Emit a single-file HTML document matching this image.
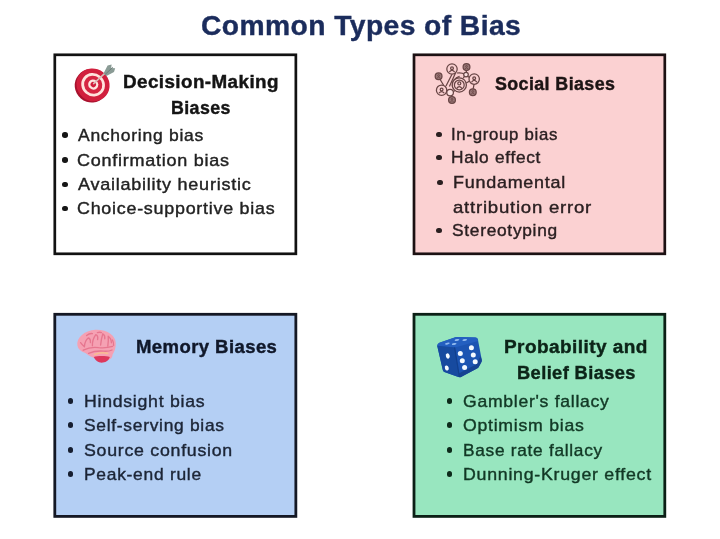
<!DOCTYPE html>
<html><head><meta charset="utf-8"><title>Common Types of Bias</title>
<style>
html,body{margin:0;padding:0;background:#fff;}
body{width:720px;height:539px;position:relative;overflow:hidden;font-family:"Liberation Sans",sans-serif;}
#page{position:absolute;left:0;top:0;width:720px;height:539px;filter:blur(0.45px);}
.t{position:absolute;white-space:nowrap;transform-origin:0 50%;line-height:1;-webkit-text-stroke-color:currentColor;}
.title{font-weight:bold;font-size:27px;letter-spacing:0.4px;color:#1b2c5c;-webkit-text-stroke-width:0.4px;}
.h{font-weight:bold;font-size:18px;letter-spacing:0.4px;-webkit-text-stroke-width:0.4px;}
.li{font-size:17px;letter-spacing:0.7px;-webkit-text-stroke-width:0.4px;}
.d{position:absolute;width:5.6px;height:5.6px;border-radius:50%;}
svg{position:absolute;overflow:visible;}
</style></head><body><div id="page">
<svg width="720" height="539" viewBox="0 0 720 539" style="left:0;top:0;">
<rect x="54.8" y="54.8" width="241.05" height="199" fill="#ffffff" stroke="#121212" stroke-width="2.7"/>
<rect x="414" y="54.8" width="250.8" height="199" fill="#fbd1d2" stroke="#1c1113" stroke-width="2.7"/>
<rect x="54.8" y="314.3" width="241.05" height="202.1" fill="#b4cff4" stroke="#141824" stroke-width="2.8"/>
<rect x="414" y="314.3" width="250.8" height="202.1" fill="#98e6bf" stroke="#0c2016" stroke-width="2.8"/>
</svg>
<div class="t title" style="left:200.88px;top:13.00px;transform:scaleX(1.0463);">Common Types of Bias</div>
<div class="t h" style="left:123.08px;top:73.00px;transform:scaleX(1.0459);color:#141414;">Decision-Making</div>
<div class="t h" style="left:171.15px;top:99.00px;transform:scaleX(0.9889);color:#141414;">Biases</div>
<div class="t li" style="left:77.87px;top:127.00px;transform:scaleX(1.0300);color:#222222;">Anchoring bias</div>
<div class="t li" style="left:77.43px;top:152.00px;transform:scaleX(1.0599);color:#222222;">Confirmation bias</div>
<div class="t li" style="left:78.20px;top:176.00px;transform:scaleX(1.0612);color:#222222;">Availability heuristic</div>
<div class="t li" style="left:77.20px;top:200.00px;transform:scaleX(1.0532);color:#222222;">Choice-supportive bias</div>
<div class="t h" style="left:494.71px;top:75.00px;transform:scaleX(0.9920);color:#1c1414;">Social Biases</div>
<div class="t li" style="left:451.48px;top:126.00px;transform:scaleX(0.9887);color:#2b2022;">In-group bias</div>
<div class="t li" style="left:451.33px;top:149.00px;transform:scaleX(1.0163);color:#2b2022;">Halo effect</div>
<div class="t li" style="left:453.02px;top:174.00px;transform:scaleX(1.0568);color:#2b2022;">Fundamental</div>
<div class="t li" style="left:452.84px;top:199.00px;transform:scaleX(1.0933);color:#2b2022;">attribution error</div>
<div class="t li" style="left:451.52px;top:222.00px;transform:scaleX(1.0196);color:#2b2022;">Stereotyping</div>
<div class="t h" style="left:135.86px;top:338.00px;transform:scaleX(1.0295);color:#10182a;">Memory Biases</div>
<div class="t li" style="left:83.93px;top:393.00px;transform:scaleX(1.0406);color:#1c2536;">Hindsight bias</div>
<div class="t li" style="left:84.11px;top:417.00px;transform:scaleX(1.0231);color:#1c2536;">Self-serving bias</div>
<div class="t li" style="left:84.11px;top:442.00px;transform:scaleX(1.0446);color:#1c2536;">Source confusion</div>
<div class="t li" style="left:83.88px;top:466.00px;transform:scaleX(1.0251);color:#1c2536;">Peak-end rule</div>
<div class="t h" style="left:503.96px;top:338.00px;transform:scaleX(1.0571);color:#0c2418;">Probability and</div>
<div class="t h" style="left:516.64px;top:364.00px;transform:scaleX(1.0142);color:#0c2418;">Belief Biases</div>
<div class="t li" style="left:463.49px;top:393.00px;transform:scaleX(1.0341);color:#123825;">Gambler's fallacy</div>
<div class="t li" style="left:463.43px;top:417.00px;transform:scaleX(1.0405);color:#123825;">Optimism bias</div>
<div class="t li" style="left:462.56px;top:442.00px;transform:scaleX(1.0170);color:#123825;">Base rate fallacy</div>
<div class="t li" style="left:462.78px;top:466.00px;transform:scaleX(1.0452);color:#123825;">Dunning-Kruger effect</div>
<i class="d" style="left:62.1px;top:132.4px;background:#161616"></i>
<i class="d" style="left:62.1px;top:157.1px;background:#161616"></i>
<i class="d" style="left:62.1px;top:181.8px;background:#161616"></i>
<i class="d" style="left:62.1px;top:205.8px;background:#161616"></i>
<i class="d" style="left:436.0px;top:131.6px;background:#2a1f20"></i>
<i class="d" style="left:436.0px;top:154.9px;background:#2a1f20"></i>
<i class="d" style="left:437.3px;top:179.9px;background:#2a1f20"></i>
<i class="d" style="left:436.0px;top:227.6px;background:#2a1f20"></i>
<i class="d" style="left:67.9px;top:398.1px;background:#161e30"></i>
<i class="d" style="left:67.9px;top:422.4px;background:#161e30"></i>
<i class="d" style="left:67.9px;top:447.4px;background:#161e30"></i>
<i class="d" style="left:67.9px;top:471.4px;background:#161e30"></i>
<i class="d" style="left:446.8px;top:398.1px;background:#0c2a1a"></i>
<i class="d" style="left:446.8px;top:422.4px;background:#0c2a1a"></i>
<i class="d" style="left:446.8px;top:447.1px;background:#0c2a1a"></i>
<i class="d" style="left:446.8px;top:471.4px;background:#0c2a1a"></i>
<svg width="720" height="539" viewBox="0 0 720 539" style="left:0;top:0;">
<!-- dartboard -->
<g>
  <g transform="rotate(40 92.3 85.4)">
    <ellipse cx="91.9" cy="86.2" rx="16.9" ry="16.6" fill="#a8122e"/>
    <ellipse cx="92.5" cy="84.5" rx="16.9" ry="16.1" fill="#d11f3d"/>
    <ellipse cx="92.5" cy="84.4" rx="12.1" ry="11.5" fill="#ffe3dd"/>
    <ellipse cx="92.5" cy="84.3" rx="9.3" ry="8.8" fill="#d62542"/>
    <ellipse cx="92.5" cy="84.2" rx="5.2" ry="4.9" fill="#ffe6e0"/>
    <ellipse cx="92.5" cy="84.1" rx="2.8" ry="2.6" fill="#d11e3c"/>
  </g>
  <path d="M93.6 83.6 L105.6 72.6" stroke="#d8bdb9" stroke-width="1.5" stroke-linecap="round" fill="none"/>
  <path d="M103.6 73.2 L107.6 65.6 L111.6 64.6 L111.2 68 L115.2 68.2 L114 72 L106.4 76 Z" fill="#8a9b95"/>
  <path d="M105 74.6 L112.8 67.2" stroke="#6a7a76" stroke-width="0.9" fill="none"/>
</g>
<!-- social network -->
<g fill="none" stroke="#684545" stroke-width="1.25">
  <path d="M452 74.3 L446 86 M455.6 72.8 L449.4 86.6 M443.6 85.3 L440 79.2 M445.8 93 L447.2 91.6 M452.6 93 L454.6 90.4 M451.4 95.9 L451.8 96.6 M466.5 70.5 L466.2 72.4 M467.8 76.6 L470.2 77.4 M464.2 76.4 L463.4 78.2 M474 84.4 L473.2 88.8 M466.3 83 L469.2 81.2 M456.8 73 Q462.6 72.4 464 74.2 M452.4 86.4 Q452.4 78.6 459.6 76.4"/>
  <circle cx="459.3" cy="84.9" r="7.1" fill="#fbd1d2"/>
  <circle cx="459.3" cy="84.9" r="4.9"/>
  <circle cx="459.3" cy="83.4" r="1.5"/>
  <path d="M456.6 88.6 Q459.3 84.6 462 88.6"/>
  <circle cx="452" cy="69" r="5.2" fill="#fbd1d2"/>
  <circle cx="452" cy="68.2" r="1.4"/><path d="M449.4 72 Q452 68.6 454.6 72"/>
  <circle cx="474.2" cy="79.1" r="5.2" fill="#fbd1d2"/>
  <circle cx="474.2" cy="78.3" r="1.4"/><path d="M471.6 82.1 Q474.2 78.7 476.8 82.1"/>
  <circle cx="441.6" cy="90.2" r="5.2" fill="#fbd1d2"/>
  <circle cx="441.6" cy="89.4" r="1.4"/><path d="M439 93.2 Q441.6 89.8 444.2 93.2"/>
  <circle cx="450.1" cy="92.6" r="3.3" fill="#fde3e3"/>
  <circle cx="466" cy="74.6" r="2.3" fill="#fde3e3"/>
  <g fill="#9a7777">
    <circle cx="466.5" cy="67.1" r="3.4"/>
    <circle cx="438.6" cy="76.3" r="3.4"/>
    <circle cx="452" cy="99.9" r="3.4"/>
    <circle cx="472.8" cy="92.2" r="3.4"/>
  </g>
  <g stroke-width="0.8">
    <circle cx="466.5" cy="66.4" r="0.9"/><path d="M464.8 69 Q466.5 66.8 468.2 69"/>
    <circle cx="438.6" cy="75.6" r="0.9"/><path d="M436.9 78.2 Q438.6 76 440.3 78.2"/>
    <circle cx="452" cy="99.2" r="0.9"/><path d="M450.3 101.8 Q452 99.6 453.7 101.8"/>
    <circle cx="472.8" cy="91.5" r="0.9"/><path d="M471.1 94.1 Q472.8 91.9 474.5 94.1"/>
  </g>
</g>
<!-- brain -->
<g>
  <path d="M77.4 345.4 C76.2 338.4 84 330.2 95.6 329.7 C107 329.3 116 335.6 115.8 343.4 C115.8 348 114.4 351.6 112.6 354.4 C112.4 357.6 110.6 359.4 108 359.8 L96.4 358.6 C91.4 357.4 88.4 355.4 85.4 353 C80.8 351.4 78 349 77.4 345.4 Z" fill="#f5a1b3"/>
  <path d="M93.8 357 C96.6 355.8 105.8 355.4 109.8 357 C108.8 361.4 103.8 363.2 100 362.6 C97 362 95 359.8 93.8 357 Z" fill="#dd385c"/>
  <path d="M94.6 354.4 Q100.6 351.8 107.6 353.4" stroke="#f8bd90" stroke-width="1.6" fill="none" stroke-linecap="round"/>
  <g stroke="#e6768f" stroke-width="1.35" fill="none" stroke-linecap="round" stroke-linejoin="round">
    <path d="M80.6 342.6 Q82.4 345 84.4 346.8 Q84.6 341 88.2 338 Q90.8 338.6 90.4 342.6"/>
    <path d="M86.6 335.6 Q89.6 333 92.4 333.6"/>
    <path d="M92.4 345.8 Q92.2 339.4 95.8 334.6 Q98.4 335.6 97.6 339.6"/>
    <path d="M97.4 332.6 Q99.6 331.8 101.4 332.6"/>
    <path d="M100.6 345 Q101.2 339.2 102.8 333.8 Q105.2 335 104.8 338.8"/>
    <path d="M107.8 346.2 Q108.6 341.4 108.2 336.2 Q111.4 338.6 111.4 342.8"/>
    <path d="M112.4 340 Q113.8 342.4 113.6 345.4"/>
    <path d="M83.2 350.2 Q90.6 346.4 98.6 347.6 Q105.6 348.4 112.6 346.4"/>
    <path d="M88.6 353.4 Q95.6 350.4 103.6 351.2 Q108.6 351.6 112 350"/>
  </g>
</g>
<!-- dice -->
<g>
  <path d="M437.2 345.8 Q437.4 343.8 439.4 342.8 L455.4 337.2 Q457 336.8 458.6 336.9 L475.4 337.4 Q477.4 337.6 477.9 339.4 L481.8 360 Q482 361.4 481.2 362.6 L478.6 367.2 Q478 368.2 477 368.6 L461 376.9 Q459.8 377.4 458.4 376.9 L444.4 372 Q443.2 371.4 442.8 370 Z" fill="#1c54b2"/>
  <path d="M437.2 345.8 Q437.4 343.8 439.4 342.8 L455.4 337.2 Q457 336.8 458.6 336.9 L475.4 337.4 Q477.4 337.6 477.9 339.4 L478.2 341 L455 347.6 Z" fill="#245fc0"/>
  <path d="M437.2 345.8 L454.6 347.4 L459.4 377 Q458.8 377.2 458.4 376.9 L444.4 372 Q443.2 371.4 442.8 370 Z" fill="#174a9f"/>
  <path d="M481.8 360 Q482 361.4 481.2 362.6 L478.6 367.2 Q478 368.2 477 368.6 L461 376.9 Q459.8 377.4 459.4 377 L458.8 373.4 L476 364.4 L480.6 356 Z" fill="#164392"/>
  <path d="M454.6 347.4 L459.4 377" stroke="#123f8c" stroke-width="1.2" fill="none"/>
  <g fill="#f4f9ff">
    <circle cx="460.3" cy="353.6" r="2.5"/><circle cx="462.3" cy="360.8" r="2.5"/><circle cx="464.6" cy="367.6" r="2.5"/>
    <circle cx="471.4" cy="347.8" r="2.5"/><circle cx="473.3" cy="355" r="2.5"/><circle cx="475.2" cy="361.8" r="2.5"/>
    <ellipse cx="447.8" cy="356" rx="1.9" ry="2.7" transform="rotate(-20 447.8 356)"/>
    <ellipse cx="446.8" cy="368" rx="1.9" ry="2.6" transform="rotate(-20 446.8 368)"/>
  </g>
  <g fill="#8fb8ee">
    <ellipse cx="457" cy="340" rx="2.4" ry="0.9" transform="rotate(-12 457 340)"/>
    <ellipse cx="464.8" cy="340" rx="2.4" ry="0.9" transform="rotate(-12 464.8 340)"/>
    <ellipse cx="447.4" cy="343.6" rx="2.4" ry="0.9" transform="rotate(-12 447.4 343.6)"/>
    <ellipse cx="454.2" cy="344" rx="2.4" ry="0.9" transform="rotate(-12 454.2 344)"/>
  </g>
</g>
</svg>

</body></html>
